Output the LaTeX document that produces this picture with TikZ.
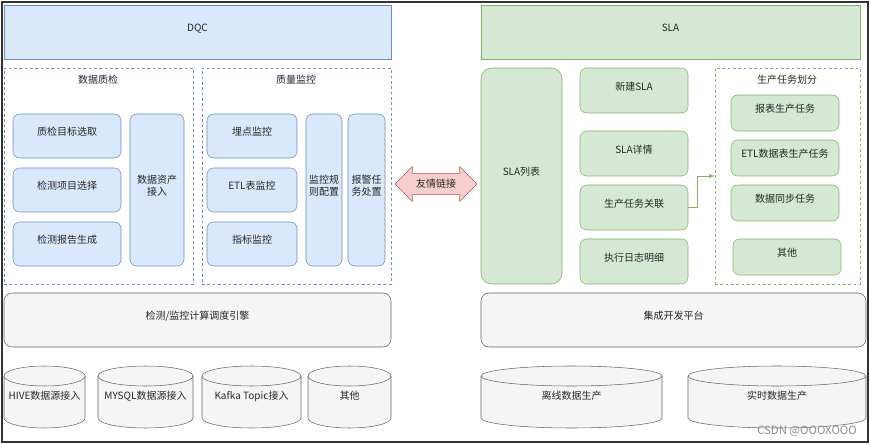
\documentclass[tikz,border=0pt]{standalone}
\usepackage{fontspec}
\setmainfont{Noto Sans CJK SC}
\usetikzlibrary{fit,shapes.arrows}
\definecolor{bluefill}{HTML}{DAE8FC}
\definecolor{bluedraw}{HTML}{6C8EBF}
\definecolor{greenfill}{HTML}{D5E8D4}
\definecolor{greendraw}{HTML}{82B366}
\definecolor{grayfill}{HTML}{F5F5F5}
\definecolor{graydraw}{HTML}{666666}
\definecolor{redfill}{HTML}{F8CECC}
\definecolor{reddraw}{HTML}{B85450}
\tikzset{
  every node/.style={font=\fontsize{7.5}{9}\selectfont, text=black!85},
  bluebox/.style={draw=bluedraw, fill=bluefill, rounded corners=5pt, inner sep=0pt, align=center},
  greenbox/.style={draw=greendraw, fill=greenfill, rounded corners=5pt, inner sep=0pt, align=center},
  graybox/.style={draw=graydraw, fill=grayfill, rounded corners=6pt, inner sep=0pt},
  group/.style={draw=#1, dashed, dash pattern=on 2pt off 2pt, inner sep=0pt},
}
% cylinder: name, left, right, text
\newcommand{\cylnode}[4]{%
  \draw[graydraw, fill=grayfill] (#2,376) -- (#2,418)
    arc[start angle=180, end angle=360, x radius={(#3-#2)*0.375pt}, y radius=7.5pt]
    -- (#3,376) arc[start angle=0, end angle=180, x radius={(#3-#2)*0.375pt}, y radius=7.5pt];
  \draw[graydraw] (#2,376) arc[start angle=180, end angle=360, x radius={(#3-#2)*0.375pt}, y radius=7.5pt];
  \node (#1) at ({(#2+#3)/2},396) {#4};}
\begin{document}
\begin{tikzpicture}[x=0.75pt, y=-0.75pt]
\useasboundingbox (0,0) rectangle (870,445);
\draw[black!80, line width=1pt] (2,2) rectangle (868,442);

% DQC
\node[draw=bluedraw, fill=bluefill, inner sep=0pt, fit={(4,5)(391,59)}] (dqc) {DQC};
\node[group=bluedraw, fit={(4,68)(193,284)}] (check) {};
\node at (98,80) (checklbl) {数据质检};
\node[group=bluedraw, fit={(202,68)(391,284)}] (monitor) {};
\node at (296,80) (monlbl) {质量监控};
\node[bluebox, fit={(13,114)(121,158)}] (target) {质检目标选取};
\node[bluebox, fit={(13,168)(121,212)}] (items) {检测项目选择};
\node[bluebox, fit={(13,222)(121,266)}] (report) {检测报告生成};
\node[bluebox, fit={(130,114)(184,266)}] (asset) {数据资产\\接入};
\node[bluebox, fit={(207,114)(297,158)}] (point) {埋点监控};
\node[bluebox, fit={(207,168)(297,212)}] (etlmon) {ETL表监控};
\node[bluebox, fit={(207,222)(297,266)}] (metric) {指标监控};
\node[bluebox, fit={(306,114)(342,266)}] (rule) {监控规\\则配置};
\node[bluebox, fit={(348,114)(385,266)}] (alarm) {报警任\\务处置};
\node[graybox, fit={(4,293)(391,347)}] (engine) {检测/监控计算调度引擎};
\cylnode{hive}{4}{85}{HIVE数据源接入}
\cylnode{mysql}{98}{193}{MYSQL数据源接入}
\cylnode{kafka}{202}{301}{Kafka Topic接入}
\cylnode{other}{308}{391}{其他}

% link
\node[double arrow, draw=reddraw, fill=redfill, minimum width=26pt, minimum height=61.5pt,
  double arrow head extend=3pt, inner sep=1pt] (link) at (436,184) {友情链接};

% SLA
\node[draw=greendraw, fill=greenfill, inner sep=0pt, fit={(481,5)(860,59)}] (sla) {SLA};
\node[greenbox, rounded corners=8pt, fit={(481,68)(562,284)}] (slalist) {SLA列表};
\node[greenbox, fit={(580,68)(688,113)}] (newsla) {新建SLA};
\node[greenbox, fit={(580,131)(688,176)}] (detail) {SLA详情};
\node[greenbox, fit={(580,185)(688,230)}] (relate) {生产任务关联};
\node[greenbox, fit={(580,239)(688,284)}] (log) {执行日志明细};
\node[group=greendraw, fit={(715,68)(860,284)}] (tasks) {};
\node at (787,80) (taskslbl) {生产任务划分};
\node[greenbox, fit={(731,95)(839,131)}] (rpt) {报表生产任务};
\node[greenbox, fit={(731,140)(839,176)}] (etltask) {ETL数据表生产任务};
\node[greenbox, fit={(731,185)(839,221)}] (sync) {数据同步任务};
\node[greenbox, fit={(733,239)(841,275)}] (misc) {其他};
\draw[greendraw, -latex] (relate.east) -| (697,176) -- (tasks.west |- 0,176);
\node[graybox, fit={(481,293)(866,347)}] (ide) {集成开发平台};
\cylnode{offline}{481}{662}{离线数据生产}
\cylnode{realtime}{688}{866}{实时数据生产}
\node[text=black!45, font=\fontsize{8.5}{10}\selectfont] at (807,431) (mark) {CSDN @OOOXOOO};
\end{tikzpicture}
\end{document}
